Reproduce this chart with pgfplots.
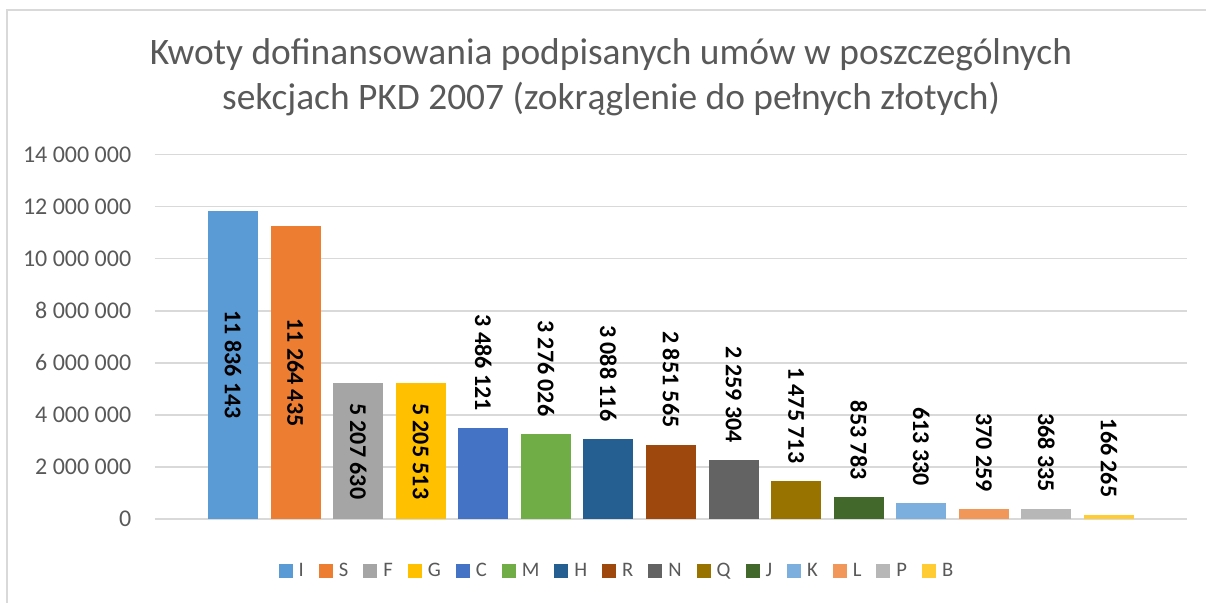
\documentclass[border=0pt]{standalone}
\usepackage{fontspec}
\setmainfont{Carlito}
\usepackage{pgfplots}
\pgfplotsset{compat=1.18}

\definecolor{tc}{HTML}{595959}
\definecolor{gl}{HTML}{D9D9D9}
\definecolor{cI}{HTML}{5B9BD5}
\definecolor{cS}{HTML}{ED7D31}
\definecolor{cF}{HTML}{A5A5A5}
\definecolor{cG}{HTML}{FFC000}
\definecolor{cC}{HTML}{4472C4}
\definecolor{cM}{HTML}{70AD47}
\definecolor{cH}{HTML}{255E91}
\definecolor{cR}{HTML}{9E480E}
\definecolor{cN}{HTML}{636363}
\definecolor{cQ}{HTML}{997300}
\definecolor{cJ}{HTML}{43682B}
\definecolor{cK}{HTML}{7CAFDD}
\definecolor{cL}{HTML}{F1975A}
\definecolor{cP}{HTML}{B7B7B7}
\definecolor{cB}{HTML}{FFCD33}

\pgfplotsset{
  bx/.style={ybar, bar width=25pt, bar shift=0pt, draw=none, fill=#1,
    legend image code/.code={\fill[#1] (0pt,-3.5pt) rectangle (7pt,3.5pt);}},
}
\tikzset{
  lbl/.style={rotate=-90, text=black, font=\bfseries\fontsize{12}{14}\selectfont},
  top/.style={lbl, anchor=east, inner sep=0pt},
}

\begin{document}
\begin{tikzpicture}
\begin{axis}[
  name=ax,
  scale only axis,
  width=516pt, height=182.25pt,
  xmin=-1.247, xmax=15.247,
  ymin=0, ymax=14000000,
  xtick=\empty,
  scaled y ticks=false,
  ytick={0,2000000,4000000,6000000,8000000,10000000,12000000,14000000},
  yticklabels={0,2 000 000,4 000 000,6 000 000,8 000 000,10 000 000,12 000 000,14 000 000},
  yticklabel style={anchor=east, inner sep=0pt, xshift=-11.7pt, text=tc, font=\fontsize{12}{14}\selectfont},
  ymajorgrids,
  major grid style={draw=gl, line width=0.8pt},
  axis line style={draw=none},
  tick style={draw=none},
  clip=false,
  legend columns=-1,
  legend style={at={(0.4467,0)}, anchor=center, yshift=-26pt, draw=none,
    font=\fontsize{10.3}{12}\selectfont, text=tc,
    nodes={inner sep=0pt},
    /tikz/every odd column/.append style={column sep=3pt},
    /tikz/every even column/.append style={column sep=7.5pt}},
]
\addplot[bx=cI] coordinates {(0,11836143)};
\addplot[bx=cS] coordinates {(1,11264435)};
\addplot[bx=cF] coordinates {(2,5207630)};
\addplot[bx=cG] coordinates {(3,5205513)};
\addplot[bx=cC] coordinates {(4,3486121)};
\addplot[bx=cM] coordinates {(5,3276026)};
\addplot[bx=cH] coordinates {(6,3088116)};
\addplot[bx=cR] coordinates {(7,2851565)};
\addplot[bx=cN] coordinates {(8,2259304)};
\addplot[bx=cQ] coordinates {(9,1475713)};
\addplot[bx=cJ] coordinates {(10,853783)};
\addplot[bx=cK] coordinates {(11,613330)};
\addplot[bx=cL] coordinates {(12,370259)};
\addplot[bx=cP] coordinates {(13,368335)};
\addplot[bx=cB] coordinates {(14,166265)};
\legend{I,S,F,G,C,M,H,R,N,Q,J,K,L,P,B}

% labels inside the four tallest bars
\node[lbl] at (axis cs:0,5918071.5) {11 836 143};
\node[lbl] at (axis cs:1,5632217.5) {11 264 435};
\node[lbl] at (axis cs:2,2603815) {5 207 630};
\node[lbl] at (axis cs:3,2602756.5) {5 205 513};
% labels above the others
\node[top] at ([yshift=8.5pt]axis cs:4,3486121) {3 486 121};
\node[top] at ([yshift=8.5pt]axis cs:5,3276026) {3 276 026};
\node[top] at ([yshift=8.5pt]axis cs:6,3088116) {3 088 116};
\node[top] at ([yshift=8.5pt]axis cs:7,2851565) {2 851 565};
\node[top] at ([yshift=8.5pt]axis cs:8,2259304) {2 259 304};
\node[top] at ([yshift=8.5pt]axis cs:9,1475713) {1 475 713};
\node[top] at ([yshift=8.5pt]axis cs:10,853783) {853 783};
\node[top] at ([yshift=8.5pt]axis cs:11,613330) {613 330};
\node[top] at ([yshift=8.5pt]axis cs:12,370259) {370 259};
\node[top] at ([yshift=8.5pt]axis cs:13,368335) {368 335};
\node[top] at ([yshift=8.5pt]axis cs:14,166265) {166 265};
\end{axis}

\path[use as bounding box] ([shift={(-77.5pt,-42pt)}]ax.south west) rectangle ++(603pt,301.5pt);
\draw[gl, line width=1pt] ([shift={(-74pt,-42pt)}]ax.south west) -- ++(0,296.5pt) -- ++(599.5pt,0);
\node[anchor=base, text=tc, font=\fontsize{18.7}{22}\selectfont, inner sep=0pt]
  at ([shift={(228pt,227pt)}]ax.south west) {Kwoty dofinansowania podpisanych umów w poszczególnych};
\node[anchor=base, text=tc, font=\fontsize{18.7}{22}\selectfont, inner sep=0pt]
  at ([shift={(228pt,204.5pt)}]ax.south west) {sekcjach PKD 2007 (zokrąglenie do pełnych złotych)};
\end{tikzpicture}
\end{document}
